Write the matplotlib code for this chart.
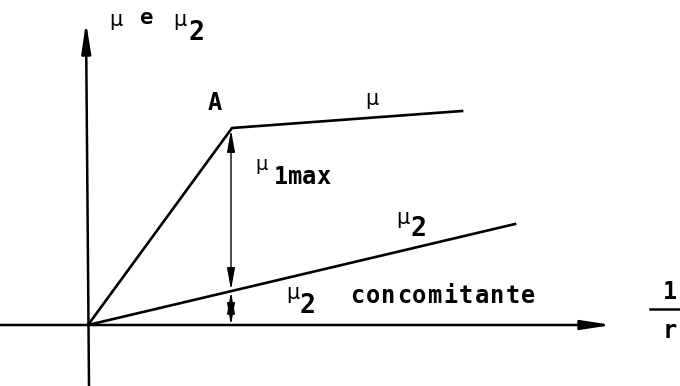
import matplotlib
matplotlib.use("Agg")
import matplotlib.pyplot as plt

# curve points (schematic units, origin at the axes crossing)
mu_x = [0, 144, 374]
mu_y = [0, 197, 214]
mu2_x = [0, 427]
mu2_y = [0, 101]
x_A = 144
mu2_at_A = mu2_y[1] * x_A / mu2_x[1]

plt.rcParams["font.family"] = ["DejaVu Sans Mono", "DejaVu Sans"]


def spaced(ax, x, y, s, step, size=17, weight="bold"):
    # typewriter style text, one char per fixed step
    for i, ch in enumerate(s):
        ax.text(x + i * step, y, ch, fontsize=size, fontweight=weight,
                ha="center", va="center")


def mu(ax, x, y, size=15):
    ax.text(x, y, "μ", fontsize=size, family="DejaVu Sans", ha="center", va="center")


def big(ax, x, y, s, size=18):
    ax.text(x, y, s, fontsize=size, fontweight="bold", ha="center", va="center")


fig = plt.figure(figsize=(6.8, 3.86), dpi=100)
ax = fig.add_axes([0, 0, 1, 1])
ax.set_xlim(-88, 592)
ax.set_ylim(-61, 325)
ax.axis("off")

head = dict(arrowstyle="-|>,head_length=1.3,head_width=0.2", mutation_scale=14,
            color="black", lw=1.8, shrinkA=0, shrinkB=0)
# axes
ax.annotate("", xy=(524, 0), xytext=(-88, 0), arrowprops=head)
ax.annotate("", xy=(-2, 303), xytext=(1, -61), arrowprops=head)

# curves
ax.plot(mu_x, mu_y, color="black", lw=1.9, solid_joinstyle="miter")
ax.plot(mu2_x, mu2_y, color="black", lw=1.9)

# arrows between curves
dbl = dict(arrowstyle="<|-|>,head_length=1.1,head_width=0.2", mutation_scale=12,
           color="black", lw=1.0, shrinkA=0, shrinkB=0)
ax.annotate("", xy=(x_A - 1, mu2_at_A + 1), xytext=(x_A - 1, mu_y[1] - 2), arrowprops=dbl)
ax.annotate("", xy=(x_A - 1, 0), xytext=(x_A - 1, mu2_at_A - 1), arrowprops=dbl)

# labels
mu(ax, 28, 305)
big(ax, 59, 307, "e", size=16)
mu(ax, 92, 305)
big(ax, 108, 292, "2", size=19)

big(ax, 127, 222, "A", size=17)
mu(ax, 284, 226)

mu(ax, 174, 160, size=14)
spaced(ax, 193, 148, "1max", 14)

mu(ax, 315, 107)
big(ax, 330, 96, "2", size=19)

mu(ax, 205, 32)
big(ax, 219, 19, "2", size=19)
spaced(ax, 269, 29, "concomitante", 15.6)

big(ax, 582, 33, "1", size=17)
ax.plot([562, 594], [16, 16], color="black", lw=1.8)
big(ax, 582, -6, "r", size=17)

fig.savefig("out.png", dpi=100)
